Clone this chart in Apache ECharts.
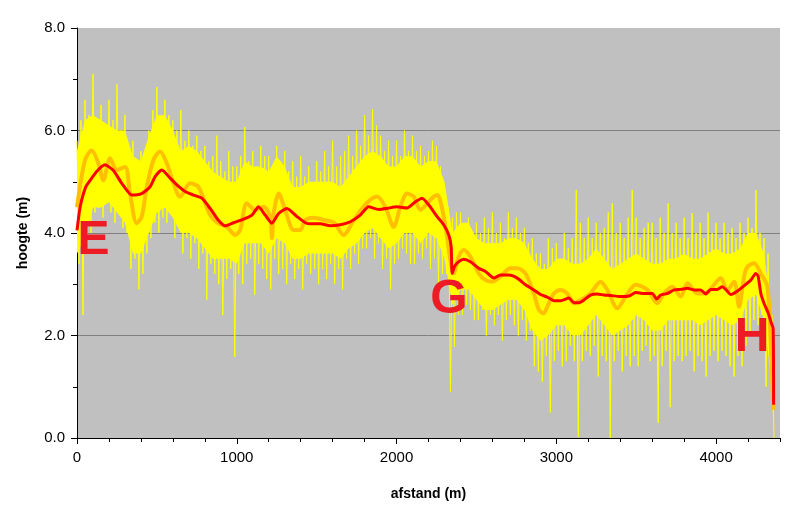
<!DOCTYPE html>
<html>
<head>
<meta charset="utf-8">
<script src="https://cdn.jsdelivr.net/npm/echarts@6/dist/echarts.min.js"></script>
<style>html,body{margin:0;padding:0;background:#fff}#c{width:806px;height:508px}</style>
</head>
<body>
<div id="c"></div>
<script>
// ---- data ----
// x-axis (afstand, m) major ticks
const xTicks = [0, 1000, 2000, 3000, 4000];

// dense yellow core band: distances and low/high heights
const bandX = [0,50,100,150,200,250,300,350,400,450,500,550,600,650,700,750,800,850,900,950,
  1000,1050,1100,1150,1200,1250,1300,1350,1400,1450,1500,1550,1600,1650,1700,1750,1800,1850,1900,1950,
  2000,2050,2100,2150,2200,2250,2300,2350,2400,2450,2500,2550,2600,2650,2700,2750,2800,2850,2900,2950,
  3000,3050,3100,3150,3200,3250,3300,3350,3400,3450,3500,3550,3600,3650,3700,3750,3800,3850,3900,3950,
  4000,4050,4100,4150,4200,4250,4300,4340,4360];
const bandLow = [3.6,3.9,4.5,4.5,4.6,4.4,4.2,3.6,3.6,4.0,4.4,4.5,4.3,4.0,4.0,3.9,3.7,3.5,3.5,3.5,
  3.4,3.8,3.8,3.8,3.6,3.9,3.8,3.5,3.5,3.6,3.6,3.6,3.6,3.5,3.7,3.8,4.0,4.1,3.9,3.7,
  3.8,4.0,4.0,3.8,4.0,3.9,3.5,2.6,2.9,2.9,2.7,2.5,2.5,2.6,2.7,2.7,2.5,2.1,1.9,2.0,
  2.2,2.2,2.0,2.0,2.2,2.4,2.2,2.0,2.1,2.2,2.4,2.3,2.1,2.1,2.3,2.3,2.3,2.3,2.2,2.3,
  2.4,2.3,2.2,2.3,2.7,2.8,2.3,1.3,0.2];
const bandHigh = [5.6,6.2,6.3,6.2,6.1,6.0,6.0,5.5,5.4,5.9,6.3,6.3,6.0,5.6,5.7,5.6,5.4,5.2,5.1,5.0,
  5.0,5.4,5.3,5.3,5.2,5.5,5.3,4.9,4.9,5.0,5.0,5.0,5.0,4.9,5.1,5.3,5.5,5.6,5.5,5.3,
  5.3,5.5,5.5,5.3,5.4,5.4,5.0,4.0,4.2,4.2,3.9,3.8,3.8,3.8,3.9,3.9,3.8,3.5,3.3,3.3,
  3.5,3.5,3.4,3.4,3.5,3.7,3.5,3.3,3.4,3.5,3.6,3.5,3.4,3.4,3.5,3.5,3.6,3.5,3.5,3.6,
  3.7,3.6,3.6,3.7,4.0,4.0,3.6,2.6,1.0];

// raw yellow measurements (spiky), sampled every 12.5 m
const rawStep = 12.5;
const rawHeight = [
  5.8,3.4,6.2,2.4,6.6,3.6,6.3,4.0,   7.1,4.4,6.1,4.5,6.5,4.3,6.0,4.6,
  6.6,4.4,6.2,4.2,6.9,4.5,6.0,4.1,   6.3,4.0,5.5,3.3,5.8,3.5,5.3,2.9,
  5.6,3.2,5.4,3.6,6.0,3.9,6.4,4.2,   6.85,4.0,6.2,4.3,6.6,4.2,6.3,4.4,
  6.2,3.9,6.0,4.1,6.4,3.6,5.8,3.9,   6.0,3.5,5.7,3.8,5.9,3.3,5.6,3.6,
  5.7,2.7,5.4,3.4,5.5,3.2,5.9,3.0,   5.4,2.4,5.2,3.1,5.6,3.3,5.3,1.58,
  5.3,3.2,5.5,3.0,6.07,3.4,5.4,3.5,  5.6,2.8,5.3,3.4,5.7,3.3,5.5,3.1,
  5.5,2.9,5.3,3.5,5.7,3.2,5.4,3.3,   5.6,3.0,5.2,3.4,5.4,3.1,5.1,3.3,
  5.5,2.9,5.1,3.4,5.3,3.2,5.0,3.3,   5.4,3.0,5.2,3.3,5.6,3.1,5.3,3.4,
  5.8,3.0,5.3,3.3,5.5,2.9,5.6,3.5,   5.9,3.3,5.5,3.6,6.0,3.4,5.7,3.7,
  6.3,3.7,5.9,3.9,6.42,3.5,6.1,3.8,  5.9,3.3,5.6,3.5,5.8,2.9,5.5,3.4,
  5.8,3.5,5.5,3.7,6.0,3.6,5.6,3.4,   5.9,3.4,5.6,3.6,5.7,3.5,5.5,3.7,
  5.6,3.3,5.8,3.5,5.7,3.0,5.3,3.2,   4.9,3.2,4.5,0.9,4.3,1.78,4.4,2.4,
  4.4,2.4,4.1,2.6,4.3,2.5,3.9,2.3,   4.2,2.3,4.0,2.5,4.3,2.0,4.1,2.4,
  4.4,2.2,4.0,2.4,4.2,1.9,3.9,2.3,   4.4,2.4,4.1,2.2,4.3,2.0,4.0,2.3,
  4.1,1.9,3.8,2.1,3.9,1.4,3.6,1.3,   3.6,1.1,3.4,1.6,3.9,0.5,3.7,1.5,
  3.8,1.7,3.5,1.4,4.0,1.5,3.7,1.8,   3.9,1.5,4.84,0.02,4.2,1.5,3.9,1.7,
  4.3,1.6,3.9,1.8,4.2,1.2,4.0,1.6,   4.1,1.5,4.4,0.0,4.58,1.5,4.0,1.7,
  4.2,1.3,3.9,1.6,4.3,1.4,4.84,1.6,  4.3,1.4,3.9,1.7,4.1,1.8,4.2,1.5,
  4.2,1.6,3.9,0.3,4.3,1.4,4.0,1.7,   4.58,0.6,4.0,1.5,4.2,1.6,3.9,1.5,
  4.3,1.6,3.9,1.7,4.39,1.3,4.0,1.6,  4.2,1.5,3.9,1.2,4.4,1.6,4.0,1.7,
  4.2,1.5,3.9,1.7,4.2,1.6,4.0,1.4,   4.1,1.2,3.9,1.6,4.2,1.4,4.0,1.8,
  4.3,2.0,4.1,2.3,4.84,2.2,4.0,2.4,  3.9,1.0,3.6,1.5,2.4,0.0];

// orange moving average [afstand, hoogte]
const orangeX = [0,50,92,134,165,207,249,301,332,374,405,437,478,520,562,604,645,708,760,833,885,938,990,1021,
  1063,1115,1167,1209,1220,1232,1262,1303,1356,1397,1429,1480,1550,1610,1669,1732,1813,1878,1930,1982,2024,2066,
  2107,2149,2185,2222,2254,2285,2316,2337,2358,2389,2421,2462,2515,2557,2600,2651,2713,2755,2807,2859,2891,2920,
  2943,2985,3027,3068,3110,3152,3214,3277,3319,3382,3434,3497,3570,3632,3674,3726,3779,3821,3883,3935,3977,4029,
  4071,4113,4144,4175,4196,4238,4280,4321,4342,4358];
const orangeY = [4.5,5.42,5.61,5.36,5.03,5.46,5.23,5.29,4.77,4.19,4.32,4.9,5.42,5.59,5.36,4.97,4.71,4.97,4.9,4.35,4.19,4.12,3.96,4.06,
  4.58,4.45,4.51,4.32,3.9,4.4,4.77,4.45,4.06,4.06,4.25,4.3,4.25,4.2,3.96,4.25,4.58,4.71,4.51,4.12,4.51,4.77,
  4.71,4.45,4.55,4.68,4.74,4.48,3.93,3.47,3.21,3.54,3.67,3.54,3.21,3.08,3.05,3.15,3.31,3.31,3.21,2.82,2.5,2.43,
  2.56,2.82,2.89,2.82,2.63,2.69,2.82,3.05,2.89,2.53,2.76,2.99,2.89,2.63,2.82,2.95,2.76,3.02,2.82,2.82,2.95,3.12,
  2.89,3.05,2.56,3.15,3.34,3.41,3.21,2.95,1.85,0.55];

// red smoothed profile [afstand, hoogte]
const redX = [0,15,29,55,81,123,175,228,280,343,405,457,489,531,583,625,677,729,781,833,885,927,980,1042,1095,1136,
  1178,1220,1262,1314,1377,1429,1460,1523,1585,1648,1711,1773,1825,1888,1941,2003,2066,2118,2160,2201,2254,2295,
  2327,2342,2348,2362,2389,2421,2462,2515,2557,2609,2651,2703,2755,2807,2859,2901,2943,2985,3027,3079,3110,3141,
  3172,3214,3256,3298,3340,3402,3455,3497,3549,3601,3628,3653,3695,3737,3779,3821,3862,3904,3935,3966,4008,4039,
  4060,4092,4134,4175,4217,4248,4263,4280,4300,4327,4346,4357,4360];
const redY = [4.05,4.42,4.64,4.9,5.02,5.2,5.33,5.22,4.97,4.74,4.77,4.9,5.1,5.23,5.07,4.94,4.81,4.74,4.68,4.48,4.25,4.14,4.2,4.27,4.35,4.51,
  4.35,4.19,4.38,4.48,4.32,4.2,4.18,4.18,4.14,4.16,4.22,4.35,4.51,4.46,4.48,4.51,4.49,4.61,4.68,4.55,4.32,4.16,
  3.96,3.73,3.21,3.34,3.44,3.49,3.44,3.31,3.25,3.12,3.18,3.18,3.12,2.99,2.89,2.8,2.75,2.68,2.68,2.73,2.64,2.64,
  2.69,2.79,2.81,2.79,2.78,2.76,2.77,2.84,2.82,2.82,2.71,2.79,2.82,2.89,2.9,2.92,2.89,2.89,2.81,2.9,2.9,2.95,
  2.9,2.8,2.87,2.97,3.08,3.21,3.16,2.82,2.63,2.43,2.24,2.14,0.65];

// point labels
const markNames = ['E', 'G', 'H'];
const markX = [103, 2328, 4226];
const markY = [3.85, 2.70, 1.96];

// ---- build ----
const zip = (xs, ys) => xs.map((x, i) => [x, ys[i]]);
const rawData = rawHeight.map((v, i) => [Math.min(i * rawStep, 4362), v]);
const bandData = bandX.map((x, i) => [x, bandLow[i], bandHigh[i]]);

const FONT = 'Liberation Sans, Arial, sans-serif';
const chart = echarts.init(document.getElementById('c'), null, {renderer: 'canvas'});
chart.setOption({
  animation: false,
  backgroundColor: '#ffffff',
  grid: {left: 77, right: 26, top: 28, bottom: 70, show: true, backgroundColor: '#C0C0C0', borderWidth: 0},
  xAxis: [{
    type: 'value', min: 0, max: 4400, interval: 1000,
    name: 'afstand (m)', nameLocation: 'middle', nameGap: 49,
    nameTextStyle: {fontFamily: FONT, fontSize: 14, fontWeight: 'bold', color: '#000'},
    axisLine: {show: true, onZero: false, lineStyle: {color: '#000', width: 1}},
    axisTick: {show: true, length: 6, lineStyle: {color: '#000'}, customValues: xTicks},
    axisLabel: {fontFamily: FONT, fontSize: 15, color: '#000', margin: 12, customValues: xTicks,
      formatter: v => String(v)},
    splitLine: {show: false}
  }, {
    type: 'value', min: 0, max: 4400, interval: 200, position: 'bottom',
    axisLine: {show: false}, axisLabel: {show: false}, splitLine: {show: false},
    axisTick: {show: true, length: 4, lineStyle: {color: '#000'}}
  }],
  yAxis: {
    type: 'value', min: 0, max: 8, interval: 2,
    name: 'hoogte (m)', nameLocation: 'middle', nameGap: 47, nameRotate: 90,
    nameTextStyle: {fontFamily: FONT, fontSize: 14, fontWeight: 'bold', color: '#000'},
    axisLine: {show: true, onZero: false, lineStyle: {color: '#000', width: 1}},
    axisTick: {show: true, length: 6, lineStyle: {color: '#000'}},
    minorTick: {show: true, splitNumber: 2, length: 4, lineStyle: {color: '#000'}},
    axisLabel: {fontFamily: FONT, fontSize: 15, color: '#000', margin: 12, formatter: v => v.toFixed(1)},
    splitLine: {show: true, showMinLine: false, showMaxLine: false, lineStyle: {color: '#808080', width: 1}}
  },
  series: [
    {type: 'custom', name: 'band', data: bandData, silent: true, z: 1,
      encode: {x: 0, y: [1, 2]},
      renderItem: function (params, api) {
        if (params.dataIndex !== 0) return null;
        const upper = [], lower = [];
        for (let i = 0; i < bandData.length; i++) {
          upper.push(api.coord([bandData[i][0], bandData[i][2]]));
          lower.push(api.coord([bandData[i][0], bandData[i][1]]));
        }
        return {type: 'polygon', shape: {points: upper.concat(lower.reverse())},
          style: {fill: '#FFFF00', stroke: null}};
      }},
    {type: 'line', name: 'meting', data: rawData, symbol: 'none',
      lineStyle: {color: '#FFFF00', width: 1}, silent: true, z: 2},
    {type: 'line', name: 'gemiddelde', data: zip(orangeX, orangeY), symbol: 'none', smooth: 0.3,
      lineStyle: {color: '#FFC000', width: 4}, silent: true, z: 3},
    {type: 'line', name: 'profiel', data: zip(redX, redY), symbol: 'none', smooth: 0.2,
      lineStyle: {color: '#FF0000', width: 3}, silent: true, z: 4},
    {type: 'scatter', name: 'punten', symbolSize: 0, z: 5,
      data: markNames.map((n, i) => ({name: n, value: [markX[i], markY[i]]})),
      itemStyle: {opacity: 1},
      label: {show: true, position: 'inside', formatter: p => p.name,
        fontFamily: FONT, fontSize: 48, fontWeight: 'bold', color: '#ED1C24'}}
  ]
});
</script>
</body>
</html>
